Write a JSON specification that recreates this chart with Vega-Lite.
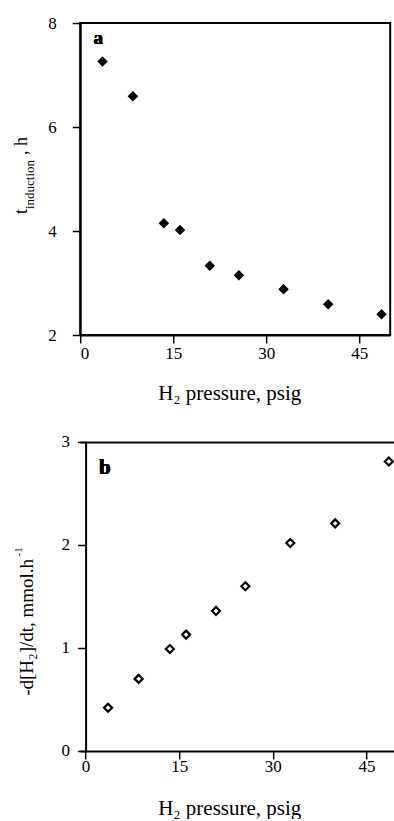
{
  "$schema": "https://vega.github.io/schema/vega-lite/v6.json",
  "padding": {"left": 11.2, "top": 13, "right": 0, "bottom": 0},
  "config": {
    "font": "Liberation Serif",
    "view": {"stroke": "black", "strokeWidth": 2},
    "axis": {
      "labelFont": "Liberation Serif", "titleFont": "Liberation Serif",
      "labelFontSize": 17, "titleFontSize": 21, "titleFontWeight": "normal",
      "labelColor": "black", "titleColor": "black",
      "domainColor": "black", "tickColor": "black",
      "domainWidth": 2, "tickWidth": 1.5, "tickSize": 8, "grid": false
    },
    "axisLeft": {"labelPadding": 16}
  },
  "datasets": {
    "d": [
      {"p": 3.6, "t": 7.26, "r": 0.42},
      {"p": 8.5, "t": 6.59, "r": 0.70},
      {"p": 13.5, "t": 4.15, "r": 0.99},
      {"p": 16.1, "t": 4.02, "r": 1.13},
      {"p": 20.9, "t": 3.33, "r": 1.36},
      {"p": 25.6, "t": 3.15, "r": 1.60},
      {"p": 32.8, "t": 2.88, "r": 2.02},
      {"p": 40.0, "t": 2.59, "r": 2.21},
      {"p": 48.6, "t": 2.40, "r": 2.81}
    ]
  },
  "spacing": 29,
  "vconcat": [
    {
      "width": 310, "height": 312,
      "data": {"name": "d"},
      "layer": [
        {
          "mark": {"type": "point", "shape": "diamond", "filled": true, "color": "black", "size": 110, "opacity": 1},
          "encoding": {
            "x": {"field": "p", "type": "quantitative", "scale": {"domain": [0, 50]},
              "axis": {"values": [0, 15, 30, 45], "title": "H₂ pressure, psig", "titleX": 149, "titleY": 64, "titleBaseline": "alphabetic", "titleAlign": "center", "labelPadding": 2}},
            "y": {"field": "t", "type": "quantitative", "scale": {"domain": [2, 8]},
              "axis": {"orient": "left", "values": [2, 4, 6, 8], "title": "t", "titleX": -53.3, "titleY": 190.5, "titleAlign": "left", "titleAngle": -90, "titleBaseline": "alphabetic", "titleFontSize": 18, "labelPadding": 16}}
          }
        },
        {
          "mark": {"type": "point", "opacity": 0},
          "encoding": {
            "x": {"datum": 25, "type": "quantitative"},
            "y": {"field": "t", "type": "quantitative",
              "axis": {"orient": "left", "title": "induction", "labels": false, "ticks": false, "domain": false, "labelPadding": 16, "titleFontSize": 13, "titleX": -46.5, "titleY": 185.5, "titleAlign": "left", "titleAngle": -90, "titleBaseline": "alphabetic"}}
          }
        },
        {
          "mark": {"type": "point", "opacity": 0},
          "encoding": {
            "x": {"datum": 25, "type": "quantitative"},
            "y": {"field": "t", "type": "quantitative",
              "axis": {"orient": "left", "title": ",  h", "labels": false, "ticks": false, "domain": false, "labelPadding": 16, "titleFontSize": 18, "titleX": -53.3, "titleY": 131.5, "titleAlign": "left", "titleAngle": -90, "titleBaseline": "alphabetic"}}
          }
        },
        {
          "mark": {"type": "text", "text": "a", "fontWeight": "bold", "fontSize": 19, "font": "Liberation Serif", "baseline": "alphabetic", "color": "black"},
          "encoding": {
            "x": {"datum": 2.9, "type": "quantitative"},
            "y": {"datum": 7.59, "type": "quantitative", "axis": null}
          }
        }
      ],
      "resolve": {"axis": {"y": "independent"}}
    },
    {
      "width": 317.4, "height": 309,
      "view": {"stroke": null},
      "data": {"name": "d"},
      "layer": [
        {
          "mark": {"type": "point", "shape": "diamond", "filled": false, "color": "black", "strokeWidth": 2.2, "size": 64, "opacity": 1},
          "encoding": {
            "x": {"field": "p", "type": "quantitative", "scale": {"domain": [-0.865, 50], "nice": false, "zero": false},
              "axis": {"values": [0, 15, 30, 45], "title": "H₂ pressure, psig", "titleX": 149, "titleY": 64, "titleBaseline": "alphabetic", "titleAlign": "center", "labelPadding": 0}},
            "y": {"field": "r", "type": "quantitative", "scale": {"domain": [0, 3]},
              "axis": {"orient": "left", "values": [0, 1, 2, 3], "format": "d", "offset": -5.4, "title": "-d[H₂]/dt, mmol.h", "titleX": -52.7, "titleY": 253.3, "titleAlign": "left", "titleAngle": -90, "titleBaseline": "alphabetic", "titleFontSize": 19, "labelPadding": 8}}
          }
        },
        {
          "mark": {"type": "point", "opacity": 0},
          "encoding": {
            "x": {"datum": 25, "type": "quantitative", "axis": null},
            "y": {"field": "r", "type": "quantitative",
              "axis": {"orient": "left", "offset": -5.4, "title": "-1", "labels": false, "ticks": false, "domain": false, "labelPadding": 8, "titleFontSize": 11, "titleX": -64.5, "titleY": 114, "titleAlign": "left", "titleAngle": -90, "titleBaseline": "alphabetic"}}
          }
        },
        {
          "mark": {"type": "point", "opacity": 0},
          "encoding": {
            "x": {"field": "p", "type": "quantitative",
              "axis": {"orient": "top", "labels": false, "ticks": false, "domain": true, "title": null}},
            "y": {"field": "r", "type": "quantitative", "axis": null}
          }
        },
        {
          "mark": {"type": "text", "text": "b", "fontWeight": "bold", "fontSize": 21, "font": "Liberation Serif", "baseline": "alphabetic", "color": "black"},
          "encoding": {
            "x": {"datum": 3.1, "type": "quantitative", "axis": null},
            "y": {"datum": 2.69, "type": "quantitative", "axis": null}
          }
        }
      ],
      "resolve": {"axis": {"x": "independent", "y": "independent"}}
    }
  ]
}
